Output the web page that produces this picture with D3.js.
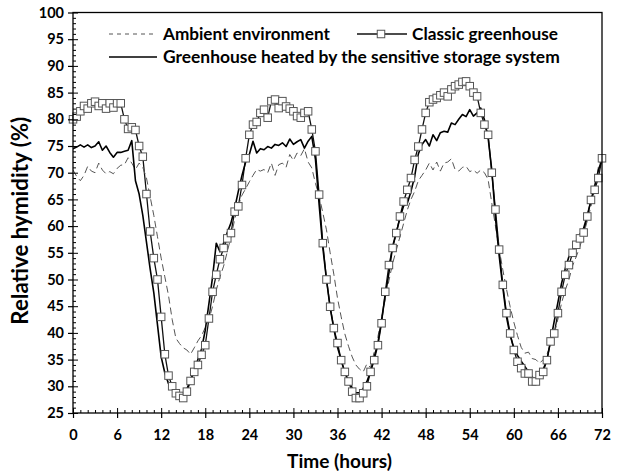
<!DOCTYPE html>
<html><head><meta charset="utf-8">
<script src="https://cdn.jsdelivr.net/npm/d3@7/dist/d3.min.js"></script>
<style>
body{margin:0;background:#fff}
svg{display:block}
text{font-family:Lato,"Open Sans",sans-serif;font-weight:700;fill:#000}
</style>
</head><body>
<svg id="chart" width="619" height="474"></svg>
<script>
// sampling step of the series (hours)
const timeStep = 0.5;

const ambient = [
 70.5, 69.3, 68.5, 69.5, 71.2, 70.3, 70, 71.8, 70.5, 69.8, 70.2, 69.8,
 70.8, 71.4, 71.5, 72.8, 71.8, 70.6, 71.8, 71, 69, 65.5, 62, 58,
 54, 50.5, 47, 42.5, 39, 38, 37.2, 36.8, 36, 37.2, 38.5, 39.5,
 41, 42.5, 45, 48, 50.5, 52.5, 55.2, 58, 61.2, 63.8, 65.8, 67,
 68.3, 69.5, 70.6, 70.3, 70.6, 70, 71.8, 69.5, 71.5, 71.8, 71, 73.4,
 72.3, 73.7, 73.2, 74.5, 72, 70.9, 68, 65.6, 62.5, 59.3, 55, 51,
 46.5, 43, 39.8, 37.5, 35.5, 34, 33.2, 32.7, 34.2, 33.5, 36.5, 39.3,
 42.8, 46.3, 49.8, 53, 55.5, 58, 60.5, 63, 65, 66.5, 68.5, 69.5,
 70.5, 71.8, 70.5, 72, 70.3, 71.8, 72, 72.6, 70.6, 70.3, 71, 71.2,
 70.2, 70.5, 69.9, 70.5, 70, 68.7, 64.3, 60, 55.8, 51.8, 48.2, 44.9,
 42, 39.5, 37.3, 36.2, 36.4, 35.2, 35, 34.3, 35, 36, 37.8, 39.8,
 42.6, 45.6, 48, 50, 52.6, 54.3, 56.2, 58.5, 61, 63.7, 66.8, 71,
 73
];

const classic = [
 80, 80.5, 81.5, 82.5, 82, 83, 83.3, 82.5, 83, 82, 83, 82.2,
 83, 83, 80, 78.2, 78.5, 78, 75, 73, 66, 59, 54, 50,
 43, 36, 32, 30, 28.7, 28.2, 27.8, 29, 31, 32.7, 34, 35.9,
 37.7, 42.7, 47.7, 50.9, 53.8, 55.9, 57.7, 58.7, 62.7, 63.7, 67.7, 72.7,
 77.1, 79, 79.5, 81.2, 81.8, 80.3, 83.4, 83.7, 82.1, 83.4, 82.4, 82,
 81.5, 80.6, 80.3, 81.2, 81.5, 78.1, 74, 65.9, 56.8, 50, 44.9, 40.9,
 38.1, 34.9, 32.7, 30.9, 29, 27.8, 27.8, 28.7, 30, 32.7, 34.9, 37.7,
 41.8, 47.7, 52.7, 55.9, 58.7, 61.8, 64.6, 66.8, 69, 72.4, 74.9, 78.1,
 81.2, 83.2, 83.7, 84, 84.5, 85, 84.3, 85.6, 86.2, 86.5, 87, 87.1,
 86.2, 85, 84.3, 81.2, 79, 77.1, 70, 63.1, 55.6, 49, 43.7, 39.9,
 36.8, 34.6, 33.4, 32.4, 32.4, 30.9, 30.9, 32.1, 32.7, 34.9, 38.4, 39.9,
 43.7, 47.7, 50.9, 52.7, 55, 56.5, 57.7, 58.8, 61.8, 64.9, 66.8, 69,
 72.7
];

const heated = [
 74.5, 74.8, 75.2, 74.8, 75.2, 74.7, 75, 75.8, 74.2, 75, 73.8, 72.9,
 73.8, 73.8, 74, 74.2, 76, 68.5, 66, 62, 57, 52, 47.5, 41.5,
 35.5, 32.5, 30.5, 29.5, 28.7, 28.3, 28.4, 29.5, 31.2, 33, 35, 37,
 40.5, 45.5, 50.5, 56.8, 55.2, 56.8, 58.8, 60.6, 63.3, 66.5, 69.5, 72,
 73.4, 75.9, 73.7, 74.5, 74.3, 74.9, 74.6, 75.3, 75.1, 75.6, 74.9, 76.3,
 75.3, 75.8, 76.2, 74.6, 75.9, 76.8, 72.5, 64, 56, 50, 44.7, 40.8,
 37.3, 34.9, 32.5, 31, 29.7, 28.8, 28.8, 29.6, 30.9, 32.7, 35.5, 38.1,
 42.5, 47, 51.3, 56.2, 58.8, 61.5, 63.8, 64.3, 66.5, 69.3, 73.5, 75.3,
 76.2, 75, 77.1, 76, 77.5, 77.75, 77.6, 79.3, 79, 80, 80.9, 80.5,
 81.8, 80.6, 81.2, 82.1, 79.9, 76.5, 70.5, 61.5, 54.5, 48.5, 43, 39.5,
 37.2, 35.8, 34.7, 33.7, 32.7, 31.8, 30.6, 32, 33.2, 34.9, 38.5, 42.2,
 45.7, 49.3, 52, 54.3, 55.5, 57, 58.5, 59.6, 62, 64.8, 67.5, 70.4,
 72.5
];

const xTicks = [0, 6, 12, 18, 24, 30, 36, 42, 48, 54, 60, 66, 72];
const yTicks = [25, 30, 35, 40, 45, 50, 55, 60, 65, 70, 75, 80, 85, 90, 95, 100];
const xMinor = d3.range(0, 73, 1);
const yMinor = d3.range(25, 101, 1);
const legendNames = ["Ambient environment", "Classic greenhouse", "Greenhouse heated by the sensitive storage system"];
const xTitle = "Time (hours)";
const yTitle = "Relative hymidity (%)";

const svg = d3.select("#chart");
const L = 73, R = 602, T = 12.5, B = 413;
const x = d3.scaleLinear().domain([0, 72]).range([L, R]);
const y = d3.scaleLinear().domain([25, 100]).range([B, T]);

function fit(sel, target, base) {
  sel.style("font-size", base + "px");
  const w = sel.node().getComputedTextLength();
  sel.style("font-size", (base * target / w).toFixed(2) + "px");
}

svg.append("clipPath").attr("id", "clip").append("rect")
  .attr("x", L).attr("y", T).attr("width", R - L).attr("height", B - T);

const line = d3.line().x((d, i) => x(i * timeStep)).y(d => y(d));
const g = svg.append("g").attr("clip-path", "url(#clip)");

// classic line (under squares)
g.append("path").datum(classic).attr("d", line)
  .attr("fill", "none").attr("stroke", "#111").attr("stroke-width", 1.3);
// ambient dashed
g.append("path").datum(ambient).attr("d", line)
  .attr("fill", "none").attr("stroke", "#555").attr("stroke-width", 1)
  .attr("stroke-dasharray", "7,4");
// squares
const sq = 7.5;
svg.append("g").selectAll("rect").data(classic).join("rect")
  .attr("x", (d, i) => x(i * timeStep) - sq / 2)
  .attr("y", d => y(d) - sq / 2)
  .attr("width", sq).attr("height", sq)
  .attr("fill", "#fff").attr("stroke", "#555").attr("stroke-width", 1);
// heated solid
g.append("path").datum(heated).attr("d", line)
  .attr("fill", "none").attr("stroke", "#000").attr("stroke-width", 1.6)
  .attr("stroke-linejoin", "round");

// frame
svg.append("rect").attr("x", L).attr("y", T).attr("width", R - L).attr("height", B - T)
  .attr("fill", "none").attr("stroke", "#000").attr("stroke-width", 1.3);

// x axis
const xAx = svg.append("g").attr("transform", `translate(0,${B})`)
  .call(d3.axisBottom(x).tickValues(xTicks).tickSize(5).tickPadding(12).tickFormat(d3.format("d")));
xAx.select(".domain").remove();
xAx.selectAll(".tick line").attr("stroke-width", 1.2);
xAx.selectAll("text").style("font-size", "14.5px").style("font-family", "Lato, sans-serif").style("font-weight", 700);
const xIn = svg.append("g").attr("transform", `translate(0,${B})`)
  .call(d3.axisTop(x).tickValues(xMinor).tickSize(3).tickFormat(""));
xIn.select(".domain").remove();
xIn.selectAll(".tick").filter(d => d % 6 === 0).select("line").attr("y2", -5);

// y axis
const yAx = svg.append("g").attr("transform", `translate(${L},0)`)
  .call(d3.axisLeft(y).tickValues(yTicks).tickSize(5).tickPadding(4).tickFormat(d3.format("d")));
yAx.select(".domain").remove();
yAx.selectAll(".tick line").attr("stroke-width", 1.2);
yAx.selectAll("text").style("font-size", "14.5px").style("font-family", "Lato, sans-serif").style("font-weight", 700);
const yIn = svg.append("g").attr("transform", `translate(${L},0)`)
  .call(d3.axisRight(y).tickValues(yMinor).tickSize(3).tickFormat(""));
yIn.select(".domain").remove();
yIn.selectAll(".tick").filter(d => d % 5 === 0).select("line").attr("x2", 5);

// axis titles
const xt = svg.append("text").attr("x", (L + R) / 2 + 2).attr("y", 468)
  .attr("text-anchor", "middle").text(xTitle);
fit(xt, 105, 17);
const yt = svg.append("text").attr("transform", `translate(28,${(T + B) / 2 + 8}) rotate(-90)`)
  .attr("text-anchor", "middle").text(yTitle);
fit(yt, 208, 17);

// legend
const lg = svg.append("g");
lg.append("line").attr("x1", 109).attr("x2", 157).attr("y1", 34).attr("y2", 34)
  .attr("stroke", "#555").attr("stroke-width", 1).attr("stroke-dasharray", "4,4");
const t1 = lg.append("text").attr("x", 163).attr("y", 39.5).text(legendNames[0]);
fit(t1, 167, 15);
lg.append("line").attr("x1", 357).attr("x2", 407).attr("y1", 34).attr("y2", 34)
  .attr("stroke", "#111").attr("stroke-width", 1.3);
lg.append("rect").attr("x", 381 - sq / 2).attr("y", 34 - sq / 2).attr("width", sq).attr("height", sq)
  .attr("fill", "#fff").attr("stroke", "#555").attr("stroke-width", 1);
const t2 = lg.append("text").attr("x", 412).attr("y", 39.5).text(legendNames[1]);
fit(t2, 146, 15);
lg.append("line").attr("x1", 109).attr("x2", 157).attr("y1", 57).attr("y2", 57)
  .attr("stroke", "#000").attr("stroke-width", 1.6);
const t3 = lg.append("text").attr("x", 163).attr("y", 62.5).text(legendNames[2]);
fit(t3, 397, 15);
</script>
</body></html>
